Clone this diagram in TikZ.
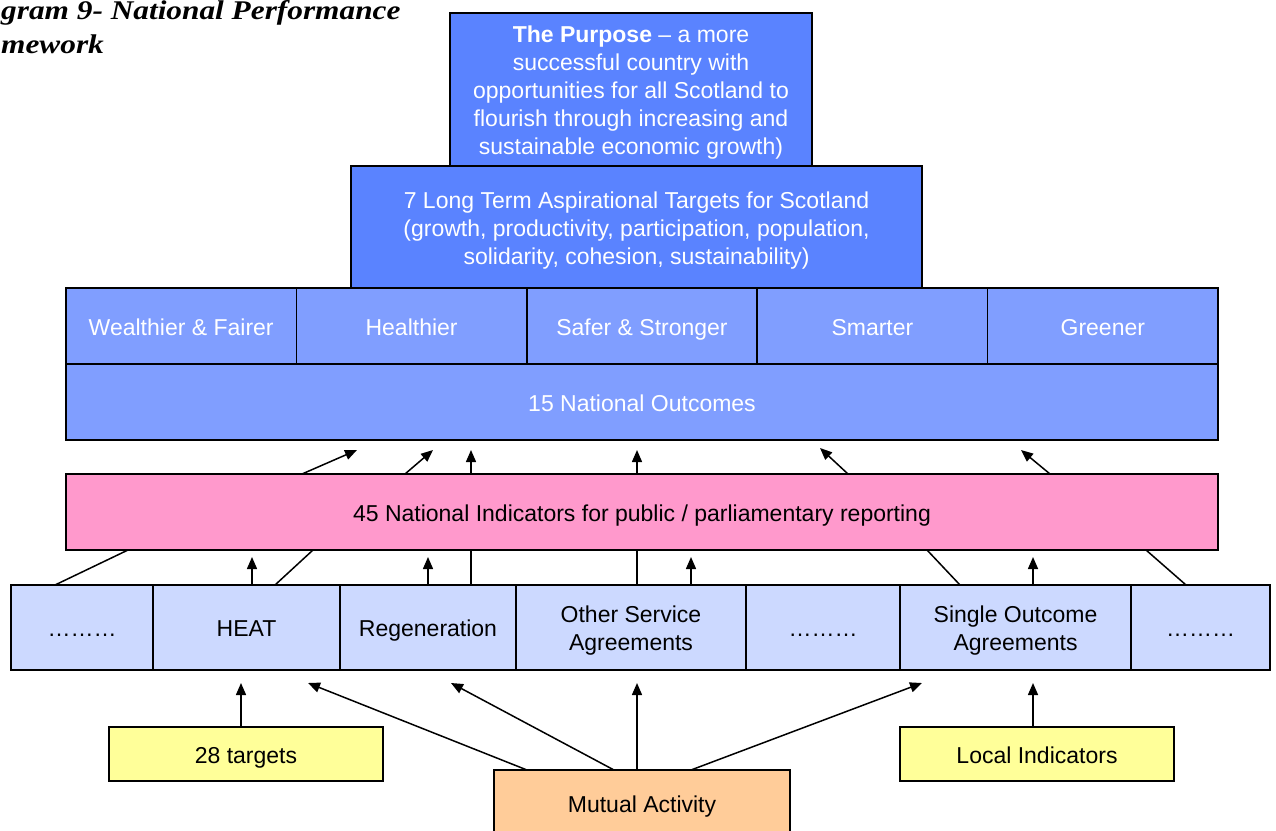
\documentclass[tikz,border=0pt]{standalone}
\usepackage{fontspec}
\setmainfont{Liberation Sans}
\newfontfamily\titlefont[FakeStretch=1.16]{Liberation Serif}
\usetikzlibrary{arrows.meta}

\definecolor{deepblue}{HTML}{5A83FF}
\definecolor{midblue}{HTML}{809EFF}
\definecolor{paleblue}{HTML}{CCD9FF}
\definecolor{pinkfill}{HTML}{FF99CC}
\definecolor{yellowfill}{HTML}{FFFF99}
\definecolor{orangefill}{HTML}{FFCC99}

% struts that keep every label on a common baseline inside its box
\newcommand\boxstrut{\rule[-6pt]{0pt}{30pt}}
\newcommand\firstline{\rule{0pt}{24pt}}
\newcommand\lastline{\rule[-5pt]{0pt}{5pt}}

\begin{document}
\begin{tikzpicture}[x=1pt,y=-1pt,
  box/.style={draw=black, line width=1.5pt, inner sep=0pt, outer sep=0pt,
              align=center, font=\fontsize{23}{28}\selectfont,
              execute at begin node=\boxstrut, execute at end node=\boxstrut},
  lines/.style={execute at begin node={}, execute at end node={}},
  topbox/.style={box, fill=deepblue, text=white},
  themebox/.style={box, fill=midblue, text=white, minimum width=230.4pt, minimum height=76pt},
  pinkbox/.style={box, fill=pinkfill},
  cellbox/.style={box, fill=paleblue, minimum height=85pt},
  yellowbox/.style={box, fill=yellowfill, minimum width=274pt, minimum height=54pt},
  orangebox/.style={box, fill=orangefill},
  titletext/.style={anchor=base west, inner sep=0pt,
              font=\titlefont\bfseries\itshape\fontsize{27}{36}\selectfont},
  arr/.style={line width=1.5pt, -{Triangle[length=12pt,width=10pt]}},
  link/.style={line width=1.5pt}]

\useasboundingbox (0,0) rectangle (1276,830);
\clip (0,0) rectangle (1276,830);

% heading
\node[titletext] (title1) at (1,19) {gram 9- National Performance};
\node[titletext] (title2) at (1,53) {mework};

% upper pyramid
\node[topbox, lines, minimum width=362pt, minimum height=153pt] (purpose) at (631,89.5)
  {\firstline\textbf{The Purpose} – a more\\successful country with\\opportunities for all Scotland to\\flourish through increasing and\\sustainable economic growth)\lastline};
\node[topbox, lines, minimum width=571pt, minimum height=122pt] (aims) at (636.5,227)
  {\firstline 7 Long Term Aspirational Targets for Scotland\\(growth, productivity, participation, population,\\solidarity, cohesion, sustainability)\lastline};

% strategic objectives
\node[themebox] (wealth) at (181.2,326) {Wealthier \& Fairer};
\node[themebox] (health) at (411.6,326) {Healthier};
\node[themebox] (safer)  at (642,326)   {Safer \& Stronger};
\node[themebox] (smart)  at (872.4,326) {Smarter};
\node[themebox] (green)  at (1102.8,326) {Greener};

\node[box, fill=midblue, text=white, minimum width=1152pt, minimum height=76pt] (outcomes) at (642,402)
  {15 National Outcomes};

\node[pinkbox, minimum width=1152pt, minimum height=76pt] (indic) at (642,512)
  {45 National Indicators for public / parliamentary reporting};

% delivery agreements
\node[cellbox, minimum width=142pt] (c1) at (82,627.5)    {………};
\node[cellbox, minimum width=187pt] (c2) at (246.5,627.5) {HEAT};
\node[cellbox, minimum width=176pt] (c3) at (428,627.5)   {Regeneration};
\node[cellbox, lines, minimum width=230pt] (c4) at (631,627.5)
  {\firstline Other Service\\Agreements\lastline};
\node[cellbox, minimum width=154pt] (c5) at (823,627.5)   {………};
\node[cellbox, lines, minimum width=231pt] (c6) at (1015.5,627.5)
  {\firstline Single Outcome\\Agreements\lastline};
\node[cellbox, minimum width=139pt] (c7) at (1200.5,627.5) {………};

% inputs
\node[yellowbox] (targets) at (246,754)  {28 targets};
\node[yellowbox] (local)   at (1037,754) {Local Indicators};
\node[orangebox, minimum width=296pt, minimum height=66pt] (mutual) at (642,803) {Mutual Activity};

% indicators feeding outcomes
\coordinate (o1) at (357,450);
\coordinate (o2) at (433,450);
\coordinate (o3) at (471,450);
\coordinate (o4) at (637,450);
\coordinate (o5) at (820,448);
\coordinate (o6) at (1021,450);
\draw[arr] (302,0 |- indic.north) -- (o1);
\draw[arr] (405,0 |- indic.north) -- (o2);
\draw[arr] (471,0 |- indic.north) -- (o3);
\draw[arr] (637,0 |- indic.north) -- (o4);
\draw[arr] (848,0 |- indic.north) -- (o5);
\draw[arr] (1050,0 |- indic.north) -- (o6);

% agreements feeding indicators
\coordinate (i1) at (252,557);
\coordinate (i2) at (428,557);
\coordinate (i3) at (691,557);
\coordinate (i4) at (1033,557);
\draw[link] (55,0 |- c1.north) -- (128,0 |- indic.south);
\draw[arr] (252,0 |- c2.north) -- (i1);
\draw[link] (275,0 |- c2.north) -- (313,0 |- indic.south);
\draw[arr] (428,0 |- c3.north) -- (i2);
\draw[link] (471,0 |- c3.north) -- (471,0 |- indic.south);
\draw[link] (637,0 |- c4.north) -- (637,0 |- indic.south);
\draw[arr] (691,0 |- c4.north) -- (i3);
\draw[link] (960,0 |- c6.north) -- (927,0 |- indic.south);
\draw[arr] (1033,0 |- c6.north) -- (i4);
\draw[link] (1186,0 |- c7.north) -- (1146,0 |- indic.south);

% inputs feeding agreements
\coordinate (a1) at (241,683);
\coordinate (a2) at (308,683);
\coordinate (a3) at (451,683);
\coordinate (a4) at (637,683);
\coordinate (a5) at (922,683);
\coordinate (a6) at (1033,683);
\draw[arr] (241,0 |- targets.north) -- (a1);
\draw[arr] (527,0 |- mutual.north) -- (a2);
\draw[arr] (614,0 |- mutual.north) -- (a3);
\draw[arr] (637,0 |- mutual.north) -- (a4);
\draw[arr] (691,0 |- mutual.north) -- (a5);
\draw[arr] (1033,0 |- local.north) -- (a6);

\end{tikzpicture}
\end{document}
